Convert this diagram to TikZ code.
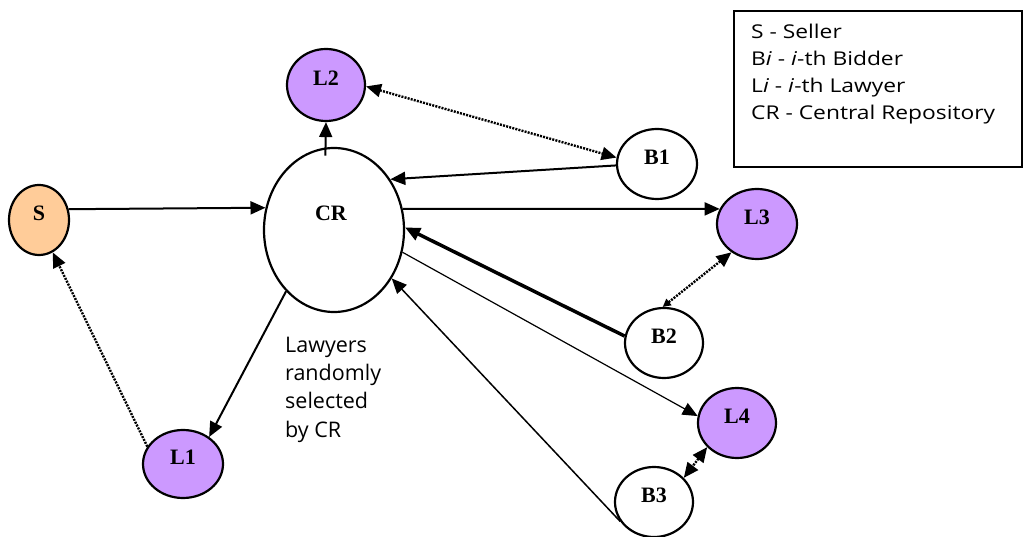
\documentclass[tikz,border=0pt]{standalone}
\usepackage{fontspec}
\setmainfont{Liberation Serif}
\newfontfamily\legendfont[FakeStretch=1.2]{Open Sans}
\newfontfamily\notefont{Open Sans}
\usetikzlibrary{shapes.geometric,arrows.meta}

\definecolor{sellerfill}{HTML}{FFCC99}
\definecolor{lawyerfill}{HTML}{CC99FF}

\tikzset{
  party/.style={ellipse, draw, line width=2.2pt, inner sep=0pt,
    minimum width=80pt, minimum height=70pt,
    text height=15pt, text depth=14pt,
    font=\fontsize{22}{22}\selectfont\bfseries},
  seller/.style={party, fill=sellerfill, minimum width=60pt},
  lawyer/.style={party, fill=lawyerfill},
  bidder/.style={party, fill=white},
  repo/.style={party, minimum width=140pt, minimum height=164pt},
  head/.tip={Triangle[length=15pt,width=13pt]},
  smallhead/.tip={Triangle[length=8pt,width=8pt]},
  link/.style={line width=2pt, -head},
  chat/.style={line width=2.4pt, dash pattern=on 2pt off 1.2pt, head-head},
  keytext/.style={font=\legendfont\fontsize{19}{27}\selectfont, inner sep=0pt, anchor=base west},
  note/.style={font=\notefont\fontsize{21.5}{28}\selectfont, inner sep=0pt, anchor=base west}
}

\begin{document}
\begin{tikzpicture}[x=1pt,y=-1pt]
\useasboundingbox (0,0) rectangle (1026,537);

% parties
\node[seller] (S)  at (39,220)  {S};
\node[repo]   (CR) at (334,230) {};
\node[font=\fontsize{22}{22}\selectfont\bfseries] (CRlabel) at (331,213) {CR};
\node[lawyer] (L2) at (326,85)  [minimum width=78pt, minimum height=72pt] {L2};
\node[bidder] (B1) at (657,164) {B1};
\node[lawyer] (L3) at (757,224) {L3};
\node[bidder] (B2) at (664,343) [minimum width=78pt] {B2};
\node[lawyer] (L4) at (737,423) [minimum width=78pt] {L4};
\node[bidder] (B3) at (654,502) [minimum width=78pt] {B3};
\node[lawyer] (L1) at (183,464) [minimum height=68pt] {L1};

% legend
\node[draw, line width=2pt, minimum width=288pt, minimum height=156pt,
      anchor=north west, inner sep=0pt] (key) at (733,10) {};
\node[keytext] (k1) at (751,39)  {S - Seller};
\node[keytext] (k2) at (751,66)  {B\textit{i} - \textit{i}-th Bidder};
\node[keytext] (k3) at (751,93)  {L\textit{i} - \textit{i}-th Lawyer};
\node[keytext] (k4) at (751,120) {CR - Central Repository};

% annotation
\node[note] (n1) at (285,353) {Lawyers};
\node[note] (n2) at (285,381) {randomly};
\node[note] (n3) at (285,409) {selected};
\node[note] (n4) at (285,437) {by CR};

% messages through the repository
\draw[link] (S.20) -- (CR.162.8);
\draw[link] ([yshift=-8pt]CR.96) -- (L2.south);
\draw[link] (B1.182.9) -- (CR.42.8);
\draw[link] (CR.17.4) -- (L3.158.2);
\draw[link, line width=3.5pt] (B2.170.8) -- (CR.2.5);
\draw[link, line width=1.2pt] (CR.-18.4) -- (L4.170.3);
\draw[link, line width=1.5pt] (B3.210.3) -- (CR.-40.6);
\draw[link] (CR.232.5) -- (L1.46.1);

% direct lawyer contacts
\draw[chat] (L2.-2.8) -- (B1.171.3);
\draw[chat, smallhead-head] (B2.92) -- (L3.228.4);
\draw[chat] (L4.219.8) -- (B3.39.8);
\draw[chat, -head] (L1.154.1) -- (S.-67.9);
\end{tikzpicture}
\end{document}
